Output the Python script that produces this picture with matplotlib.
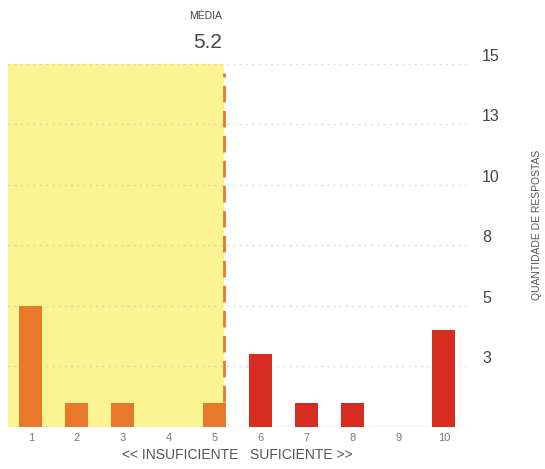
import matplotlib.pyplot as plt

plt.rcParams['font.family'] = ['Liberation Sans', 'DejaVu Sans']

# notas de 1 a 10 e quantidade de respostas
notas = [1, 2, 3, 4, 5, 6, 7, 8, 9, 10]
respostas = [5, 1, 1, 0, 1, 3, 1, 1, 0, 4]
media = 5.2
y_ticks = [2.5, 5, 7.5, 10, 12.5, 15]
y_labels = ['3', '5', '8', '10', '13', '15']

laranja = '#e8792b'
vermelho = '#d92c20'
amarelo = '#fcf492'

fig = plt.figure(figsize=(5.45, 4.69), dpi=100)
ax = fig.add_axes([0.0147, 0.0896, 0.842, 0.775])

ax.set_xlim(0.5, 10.5)
ax.set_ylim(0, 15)

# faixa amarela até a média
ax.axvspan(0.5, media, color=amarelo, zorder=0, lw=0)

for y in y_ticks:
    ax.axhline(y, color='#c8c8c8', lw=1, ls=(0, (1.5, 3)), zorder=1, alpha=0.6)

cores = [laranja if n <= 5 else vermelho for n in notas]
ax.bar(notas, respostas, width=0.5, color=cores, zorder=2)

ax.plot([media, media], [0, 14.6], color=laranja, lw=2, ls=(0, (6, 3)), zorder=3)
ax.axhline(0, color='#ecd0c8', lw=1, zorder=1)

ax.set_xticks(notas)
ax.set_xticklabels([str(n) for n in notas], fontsize=8, color='#777777')
ax.tick_params(axis='x', length=0, pad=4)

ax.yaxis.tick_right()
ax.set_yticks(y_ticks)
ax.set_yticklabels(y_labels, fontsize=11.5, color='#444444', va='bottom')
ax.tick_params(axis='y', length=0, pad=11)

for s in ax.spines.values():
    s.set_visible(False)

ax.set_xlabel('<< INSUFICIENTE   SUFICIENTE >>', fontsize=10, color='#555555', labelpad=4)

fig.text(0.995, 0.52, 'QUANTIDADE DE RESPOSTAS', rotation=90, fontsize=7.5,
         color='#555555', ha='right', va='center')

# rótulo da média
x_fig = 222 / 545
fig.text(x_fig, 1 - 16 / 469, 'MÉDIA', fontsize=7.5, color='#444444', ha='right', va='center')
fig.text(x_fig, 1 - 42 / 469, '5.2', fontsize=15, color='#444444', ha='right', va='center')

fig.savefig('out.png', dpi=100)
